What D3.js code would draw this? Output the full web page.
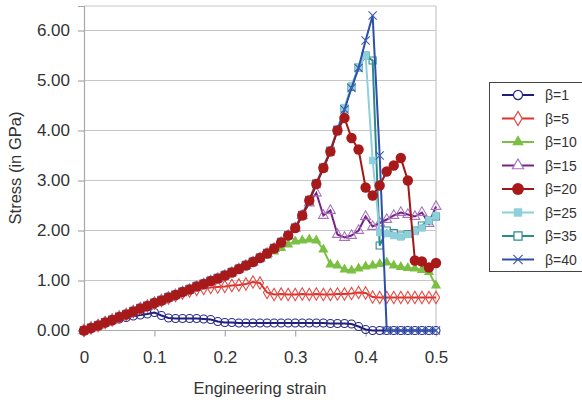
<!DOCTYPE html>
<html>
<head>
<meta charset="utf-8">
<script src="https://cdn.jsdelivr.net/npm/d3@7"></script>
<style>
  body { margin: 0; background: #fff; }
  svg { display: block; font-family: "Liberation Sans", Arial, sans-serif; }
</style>
</head>
<body>
<div id="chart"></div>
<script>
// strain values (x)
const strain = [0, 0.01, 0.02, 0.03, 0.04, 0.05, 0.06, 0.07, 0.08, 0.09,
  0.1, 0.11, 0.12, 0.13, 0.14, 0.15, 0.16, 0.17, 0.18, 0.19,
  0.2, 0.21, 0.22, 0.23, 0.24, 0.25, 0.26, 0.27, 0.28, 0.29,
  0.3, 0.31, 0.32, 0.33, 0.34, 0.35, 0.36, 0.37, 0.38, 0.39,
  0.4, 0.41, 0.42, 0.43, 0.44, 0.45, 0.46, 0.47, 0.48, 0.49, 0.5];

// stress in GPa, one array per beta
const beta1 = [0, 0.05, 0.1, 0.15, 0.19, 0.23, 0.26, 0.29, 0.31, 0.33,
  0.36, 0.3, 0.25, 0.24, 0.24, 0.24, 0.24, 0.23, 0.22, 0.18,
  0.16, 0.16, 0.15, 0.15, 0.15, 0.15, 0.15, 0.15, 0.15, 0.15,
  0.15, 0.15, 0.15, 0.15, 0.15, 0.14, 0.14, 0.14, 0.13, 0.08,
  0.02, 0, 0, 0, 0, 0, 0, 0, 0, 0, 0];
const beta5 = [0, 0.05, 0.1, 0.16, 0.21, 0.27, 0.32, 0.38, 0.44, 0.49,
  0.55, 0.6, 0.65, 0.7, 0.75, 0.79, 0.82, 0.84, 0.86, 0.87,
  0.88, 0.9, 0.91, 0.93, 0.97, 0.95, 0.76, 0.72, 0.73, 0.72,
  0.72, 0.73, 0.72, 0.73, 0.72, 0.72, 0.73, 0.73, 0.74, 0.76,
  0.75, 0.67, 0.66, 0.66, 0.66, 0.66, 0.66, 0.66, 0.66, 0.66, 0.66];
const beta10 = [0, 0.05, 0.1, 0.16, 0.21, 0.27, 0.32, 0.38, 0.44, 0.49,
  0.55, 0.6, 0.66, 0.71, 0.77, 0.82, 0.88, 0.93, 0.99, 1.04,
  1.1, 1.16, 1.23, 1.3, 1.37, 1.45, 1.5, 1.58, 1.65, 1.72,
  1.78, 1.8, 1.82, 1.8, 1.62, 1.32, 1.3, 1.22, 1.2, 1.24,
  1.28, 1.3, 1.33, 1.36, 1.3, 1.27, 1.25, 1.24, 1.21, 1.17, 0.9];
const beta15 = [0, 0.05, 0.1, 0.16, 0.21, 0.27, 0.32, 0.38, 0.44, 0.49,
  0.55, 0.6, 0.66, 0.71, 0.77, 0.82, 0.88, 0.93, 0.99, 1.04,
  1.1, 1.16, 1.23, 1.3, 1.37, 1.45, 1.54, 1.64, 1.76, 1.9,
  2.05, 2.3, 2.55, 2.75, 2.3, 2.4, 1.92, 1.86, 1.9, 2.0,
  2.28, 2.08, 2.15, 2.22, 2.3, 2.36, 2.32, 2.28, 2.36, 2.14, 2.48];
const beta20 = [0, 0.05, 0.1, 0.16, 0.21, 0.27, 0.32, 0.38, 0.44, 0.49,
  0.55, 0.6, 0.66, 0.71, 0.77, 0.82, 0.88, 0.93, 0.99, 1.04,
  1.1, 1.16, 1.23, 1.3, 1.37, 1.45, 1.54, 1.64, 1.76, 1.9,
  2.05, 2.3, 2.6, 2.93, 3.25, 3.58, 4.0, 4.25, 3.85, 3.62,
  2.86, 2.7, 2.9, 3.18, 3.3, 3.45, 3.0, 1.4, 1.38, 1.26, 1.35];
const beta25 = [0, 0.06, 0.12, 0.18, 0.24, 0.3, 0.35, 0.41, 0.47, 0.52,
  0.58, 0.63, 0.69, 0.74, 0.8, 0.85, 0.91, 0.96, 1.02, 1.07,
  1.13, 1.19, 1.26, 1.33, 1.4, 1.48, 1.57, 1.67, 1.79, 1.93,
  2.08, 2.33, 2.63, 2.96, 3.28, 3.62, 4.04, 4.46, 4.9, 5.28,
  5.5, 3.4, 1.96, 1.94, 1.9, 1.87, 1.92, 1.98, 2.05, 2.2, 2.3];
const beta35 = [0, 0.06, 0.11, 0.17, 0.22, 0.28, 0.33, 0.39, 0.45, 0.5,
  0.56, 0.61, 0.67, 0.72, 0.78, 0.83, 0.89, 0.94, 1.0, 1.05,
  1.11, 1.17, 1.24, 1.31, 1.38, 1.46, 1.55, 1.65, 1.77, 1.91,
  2.06, 2.31, 2.61, 2.94, 3.26, 3.6, 4.02, 4.44, 4.87, 5.26,
  5.5, 5.4, 1.7, 2.0, 1.95, 1.9, 1.93, 2.0, 2.1, 2.2, 2.28];
const beta40 = [0, 0.05, 0.1, 0.16, 0.21, 0.27, 0.32, 0.38, 0.44, 0.49,
  0.55, 0.6, 0.66, 0.71, 0.77, 0.82, 0.88, 0.93, 0.99, 1.04,
  1.1, 1.16, 1.23, 1.3, 1.37, 1.45, 1.54, 1.64, 1.76, 1.9,
  2.05, 2.3, 2.6, 2.93, 3.25, 3.58, 4.0, 4.42, 4.85, 5.25,
  5.8, 6.3, 3.5, 0, 0, 0, 0, 0, 0, 0, 0];

const seriesNames = ["β=1", "β=5", "β=10", "β=15", "β=20", "β=25", "β=35", "β=40"];
const seriesValues = [beta1, beta5, beta10, beta15, beta20, beta25, beta35, beta40];

const xTicks = [0, 0.1, 0.2, 0.3, 0.4, 0.5];
const yTicks = [0, 1, 2, 3, 4, 5, 6];

// look of each series: line colour, marker shape, marker fill / stroke
const styles = [
  { color: "#1f1f7a", type: d3.symbolCircle, size: 50, fill: "none", stroke: "#2a2a8a" },
  { color: "#e0302c", type: d3.symbolDiamond, size: 45, fill: "none", stroke: "#e04a44" },
  { color: "#7cc043", type: d3.symbolTriangle, size: 45, fill: "#7cc043", stroke: "none" },
  { color: "#7a2185", type: d3.symbolTriangle, size: 42, fill: "none", stroke: "#a673bd" },
  { color: "#a11717", type: d3.symbolCircle, size: 85, fill: "#a81a1a", stroke: "none" },
  { color: "#8fcfdc", type: d3.symbolSquare, size: 55, fill: "#8fcfdc", stroke: "none" },
  { color: "#2b8a8f", type: d3.symbolSquare, size: 50, fill: "none", stroke: "#2b8a8f" },
  { color: "#2d4fa8", type: d3.symbolX, size: 45, fill: "none", stroke: "#3d5cb0" }
];

const width = 582, height = 403;
const svg = d3.select("#chart").append("svg")
  .attr("width", width)
  .attr("height", height);

const x = d3.scaleLinear().domain([0, 0.5]).range([84, 436]);
const y = d3.scaleLinear().domain([0, 6.49]).range([330.5, 6]);

// grid lines and plot border
svg.append("g")
  .selectAll("line")
  .data(yTicks.slice(1))
  .enter().append("line")
  .attr("x1", x(0)).attr("x2", x(0.5))
  .attr("y1", (d) => y(d)).attr("y2", (d) => y(d))
  .attr("stroke", "#c6c6c6")
  .attr("stroke-width", 1.2);

svg.append("line")
  .attr("x1", x(0)).attr("x2", x(0.5))
  .attr("y1", y.range()[1]).attr("y2", y.range()[1])
  .attr("stroke", "#c6c6c6").attr("stroke-width", 1.2);
svg.append("line")
  .attr("x1", x(0.5)).attr("x2", x(0.5))
  .attr("y1", y.range()[1]).attr("y2", y(0))
  .attr("stroke", "#c6c6c6").attr("stroke-width", 1.2);

// axes
const xAxis = svg.append("g")
  .attr("transform", `translate(0,${y(0)})`)
  .call(d3.axisBottom(x).tickValues(xTicks).tickSize(6).tickPadding(14)
    .tickFormat((d) => (d === 0 ? "0" : String(d))));
const yAxis = svg.append("g")
  .attr("transform", `translate(${x(0)},0)`)
  .call(d3.axisLeft(y).tickValues(yTicks).tickSize(6).tickPadding(8)
    .tickFormat(d3.format(".2f")));

[xAxis, yAxis].forEach((ax) => {
  ax.select(".domain").attr("stroke", "#a8a8a8").attr("stroke-width", 1.2);
  ax.selectAll(".tick line").attr("stroke", "#a8a8a8").attr("stroke-width", 1.2);
  ax.selectAll(".tick text")
    .attr("fill", "#333")
    .attr("font-size", "17px")
    .attr("font-family", "Liberation Sans, Arial, sans-serif");
});
xAxis.select(".domain").remove();
xAxis.append("line")
  .attr("x1", x(0)).attr("x2", x(0.5))
  .attr("stroke", "#a8a8a8").attr("stroke-width", 1.2);

// axis titles
svg.append("text")
  .attr("x", 260).attr("y", 394)
  .attr("text-anchor", "middle")
  .attr("font-size", "16.5px")
  .attr("fill", "#333")
  .text("Engineering strain");
svg.append("text")
  .attr("transform", "translate(21,168) rotate(-90)")
  .attr("text-anchor", "middle")
  .attr("font-size", "16.5px")
  .attr("fill", "#333")
  .text("Stress (in GPa)");

// series; teal under light blue, β=20 on top like in the original
const line = d3.line()
  .x((d, i) => x(strain[i]))
  .y((d) => y(d));

const order = [0, 1, 2, 3, 6, 5, 7, 4];
order.forEach((k) => {
  const st = styles[k];
  const g = svg.append("g").attr("class", "series");
  g.append("path")
    .datum(seriesValues[k])
    .attr("d", line)
    .attr("fill", "none")
    .attr("stroke", st.color)
    .attr("stroke-width", 2);
  g.selectAll("path.pt")
    .data(seriesValues[k])
    .enter().append("path")
    .attr("class", "pt")
    .attr("transform", (d, i) => `translate(${x(strain[i])},${y(d)})`)
    .attr("d", d3.symbol().type(st.type).size(st.size))
    .attr("fill", st.fill)
    .attr("stroke", st.stroke)
    .attr("stroke-width", 1.1);
});

// legend
const legend = svg.append("g");
legend.append("rect")
  .attr("x", 489.5).attr("y", 82.5)
  .attr("width", 120).attr("height", 189)
  .attr("fill", "#fff")
  .attr("stroke", "#444")
  .attr("stroke-width", 1);

const item = legend.selectAll("g.item")
  .data(seriesNames)
  .enter().append("g")
  .attr("class", "item")
  .attr("transform", (d, i) => `translate(0,${95 + i * 23.5})`);

item.append("line")
  .attr("x1", 502).attr("x2", 534)
  .attr("stroke", (d, i) => styles[i].color)
  .attr("stroke-width", 2);
item.append("path")
  .attr("transform", "translate(518,0)")
  .attr("d", (d, i) => d3.symbol().type(styles[i].type).size(styles[i].size * 1.3)())
  .attr("fill", (d, i) => (styles[i].fill === "none" ? "#fff" : styles[i].fill))
  .attr("stroke", (d, i) => styles[i].stroke)
  .attr("stroke-width", 1.2);
item.append("text")
  .attr("x", 545).attr("dy", "0.36em")
  .attr("font-size", "14px")
  .attr("fill", "#333")
  .text((d) => d);
</script>
</body>
</html>
